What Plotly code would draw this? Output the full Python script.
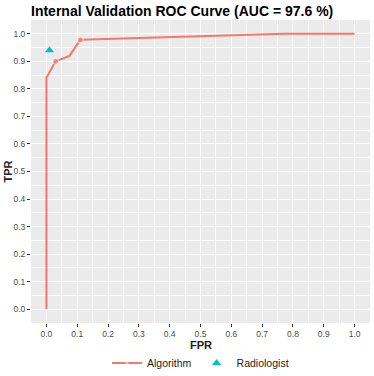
import plotly.graph_objects as go

# ROC curve points
algo_fpr = [0.0, 0.0, 0.03, 0.075, 0.11, 0.5, 0.77, 1.0]
algo_tpr = [0.0, 0.84, 0.90, 0.92, 0.978, 0.99, 1.0, 1.0]
algo_marked = [False, False, True, False, True, False, False, False]

rad_fpr = [0.01]
rad_tpr = [0.94]

tick_vals = [i / 10 for i in range(11)]
tick_text = ["%.1f" % v for v in tick_vals]

RED = "#F8766D"
TEAL = "#00BFC4"

fig = go.Figure()

fig.add_trace(go.Scatter(
    x=algo_fpr, y=algo_tpr,
    mode="lines+markers",
    name="Algorithm",
    line=dict(color=RED, width=2),
    marker=dict(color=RED, size=[6 if m else 0 for m in algo_marked],
                symbol="circle"),
))

fig.add_trace(go.Scatter(
    x=rad_fpr, y=rad_tpr,
    mode="markers",
    name="Radiologist",
    marker=dict(color=TEAL, size=8, symbol="triangle-up"),
))

axis_common = dict(
    tickvals=tick_vals,
    ticktext=tick_text,
    range=[-0.05, 1.05],
    showgrid=True,
    gridcolor="white",
    gridwidth=1.2,
    minor=dict(dtick=0.05, tick0=0, showgrid=True, gridcolor="white", gridwidth=0.5),
    zeroline=False,
    showline=False,
    ticks="outside",
    ticklen=3,
    tickcolor="#333333",
    tickfont=dict(size=8.5, color="#4D4D4D"),
    automargin=False,
)
fig.update_xaxes(**axis_common)
fig.update_yaxes(**axis_common)

# axis titles as annotations so they sit where ggplot put them
fig.add_annotation(text="<b>FPR</b>", xref="paper", yref="paper",
                   x=0.5, y=-22 / 303, yanchor="middle", showarrow=False,
                   font=dict(size=11, color="#222"), borderpad=0)
fig.add_annotation(text="<b>TPR</b>", xref="paper", yref="paper",
                   x=-24 / 339, xanchor="center", y=0.5, textangle=-90,
                   showarrow=False, font=dict(size=11, color="#222"))

fig.update_layout(
    width=374, height=376,
    margin=dict(l=31, r=4, t=20, b=53, autoexpand=False),
    plot_bgcolor="#EBEBEB",
    paper_bgcolor="white",
    font=dict(family="Liberation Sans, Arial, sans-serif"),
    title=dict(
        text="<b>Internal Validation ROC Curve (AUC = 97.6 %)</b>",
        font=dict(size=14, color="black"),
        xref="paper", x=0, xanchor="left",
        yref="container", y=1 - 11 / 376, yanchor="middle",
        automargin=False,
    ),
    legend=dict(
        orientation="h",
        x=0.5, xanchor="center",
        y=-40 / 303, yanchor="middle",
        font=dict(size=10.5, color="#222"),
        itemwidth=30,
    ),
)

fig.write_html("out.html", config={"displayModeBar": False},
               post_script="document.body.style.margin='0';")
